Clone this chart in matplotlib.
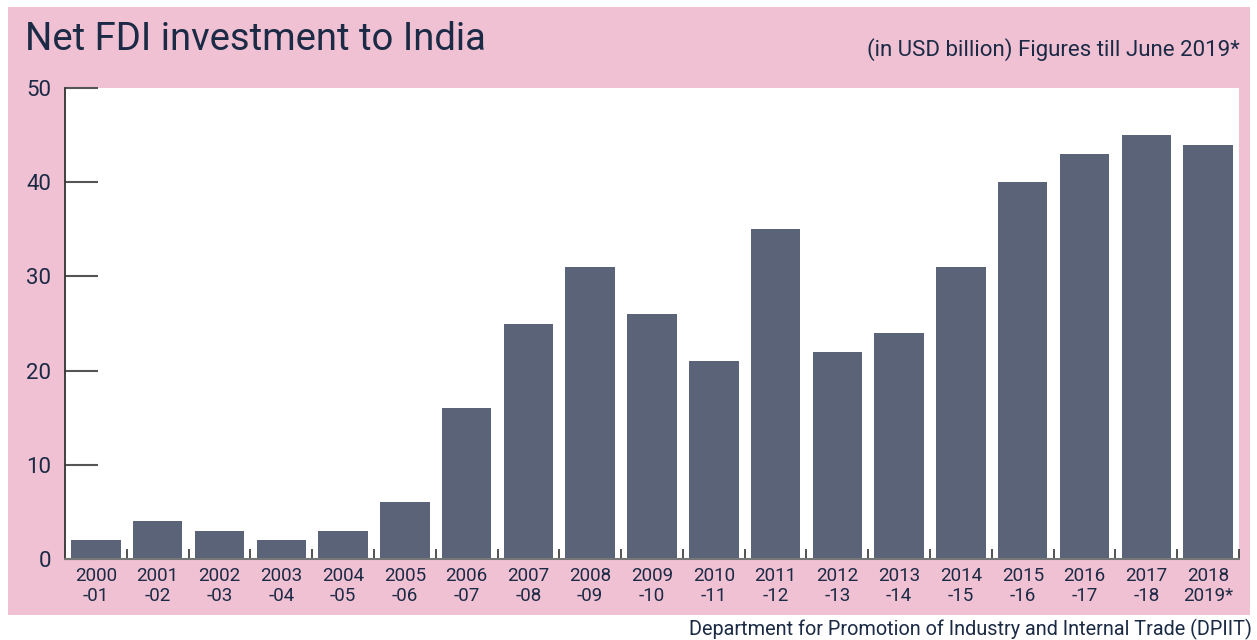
import numpy as np
import matplotlib.pyplot as plt
from matplotlib.patches import Rectangle

plt.rcParams['font.family'] = ['Roboto', 'DejaVu Sans']

# Data (USD billion)
years = ["2000\n-01", "2001\n-02", "2002\n-03", "2003\n-04", "2004\n-05",
         "2005\n-06", "2006\n-07", "2007\n-08", "2008\n-09", "2009\n-10",
         "2010\n-11", "2011\n-12", "2012\n-13", "2013\n-14", "2014\n-15",
         "2015\n-16", "2016\n-17", "2017\n-18", "2018\n2019*"]
fdi = [2, 4, 3, 2, 3, 6, 16, 25, 31, 26, 21, 35, 22, 24, 31, 40, 43, 45, 44]
yticks = [0, 10, 20, 30, 40, 50]

pink = '#f0c0d3'
bar_col = '#5a6377'
txt = '#1b2a45'

W, H = 1257, 640
fig = plt.figure(figsize=(W / 100, H / 100), dpi=100)
fig.patches.append(Rectangle((8 / W, 1 - 615 / H), (1250 - 8) / W, (615 - 7) / H,
                             transform=fig.transFigure, facecolor=pink,
                             edgecolor='none', zorder=-10))

ax = fig.add_axes([65 / W, 1 - 559 / H, (1239 - 65) / W, (559 - 88) / H])
ax.set_zorder(1)
ax.set_facecolor('white')
x = np.arange(len(fdi))
ax.bar(x, fdi, width=0.8, color=bar_col, zorder=2)

ax.set_xlim(-0.5, len(fdi) - 0.5)
ax.set_ylim(0, 50)
ax.set_yticks(yticks)
ax.set_yticklabels([str(t) for t in yticks], fontsize=16, color=txt)
ax.tick_params(axis='y', direction='in', length=24, width=1.5, color='#555555', pad=10)

ax.set_xticks(x)
ax.set_xticklabels(years, fontsize=13.5, color=txt, linespacing=1.1)
ax.tick_params(axis='x', which='major', length=0, pad=6)
ax.set_xticks(np.arange(len(fdi)) + 0.5, minor=True)
ax.tick_params(axis='x', which='minor', direction='in', length=7, width=1.2, color='#333333')

for s in ['top', 'right']:
    ax.spines[s].set_visible(False)
ax.spines['left'].set_color('#333333')
ax.spines['left'].set_linewidth(1.3)
ax.spines['bottom'].set_color('#777777')
ax.spines['bottom'].set_linewidth(1.5)

fig.text(25 / W, 1 - 39 / H, "Net FDI investment to India", fontsize=27.5, color=txt,
         va='center', ha='left')
fig.text(1240 / W, 1 - 50 / H, "(in USD billion) Figures till June 2019*", fontsize=16,
         color=txt, va='center', ha='right')
fig.text(1252 / W, 1 - 629 / H, "Department for Promotion of Industry and Internal Trade (DPIIT)",
         fontsize=14.3, color=txt, va='center', ha='right')

fig.savefig('out.png', dpi=100)
